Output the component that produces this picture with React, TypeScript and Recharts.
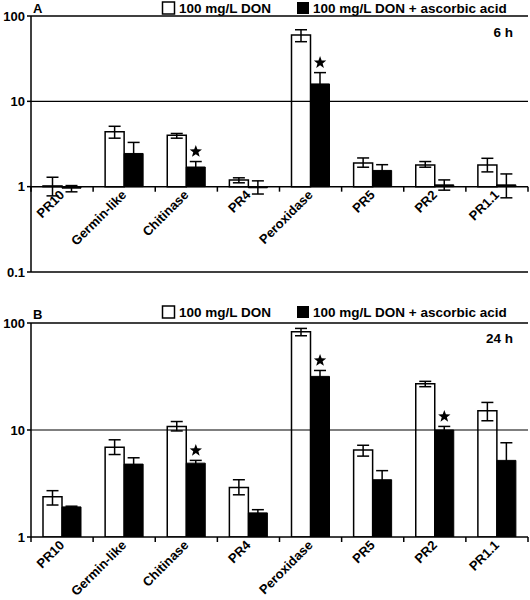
import React from "react";
import { BarChart, Bar, XAxis, YAxis, ErrorBar, ReferenceLine, ReferenceDot } from "recharts";

const categories = ["PR10", "Germin-like", "Chitinase", "PR4", "Peroxidase", "PR5", "PR2", "PR1.1"];

// 6 h
const don6 = [1.02, 4.4, 4.0, 1.2, 60, 1.9, 1.8, 1.8];
const don6Low = [0.78, 3.7, 3.7, 1.11, 50, 1.69, 1.69, 1.49];
const don6High = [1.29, 5.1, 4.2, 1.27, 69, 2.17, 1.97, 2.15];
const asc6 = [0.96, 2.45, 1.7, 0.97, 16, 1.55, 1.05, 1.05];
const asc6Low = [0.87, 1.8, 1.5, 0.82, 12, 1.35, 0.91, 0.74];
const asc6High = [1.03, 3.3, 1.97, 1.17, 21.7, 1.81, 1.2, 1.41];
const star6 = [false, false, true, false, true, false, false, false];

// 24 h
const don24 = [2.38, 6.9, 10.8, 2.9, 83, 6.5, 27, 15.1];
const don24Low = [1.99, 5.9, 9.8, 2.48, 76, 5.7, 25.4, 12.2];
const don24High = [2.71, 8.1, 12, 3.43, 89, 7.2, 28.5, 18.1];
const asc24 = [1.91, 4.8, 4.9, 1.68, 31.7, 3.43, 10.0, 5.2];
const asc24Low = [1.87, 4.2, 4.6, 1.58, 28, 2.9, 9.3, 3.5];
const asc24High = [1.94, 5.5, 5.2, 1.8, 36, 4.17, 10.8, 7.6];
const star24 = [false, false, true, false, true, false, true, false];

const ticks6 = [0.1, 1, 10, 100];
const ticks24 = [1, 10, 100];

const legendLabels = ["100 mg/L DON", "100 mg/L DON + ascorbic acid"];

const FONT = '"Liberation Sans", Arial, Helvetica, sans-serif';
const W = 530;
const H = 300;
const Y_AXIS_W = 31;
const RIGHT = 2;
const BAR = 19;

function buildRows(don: number[], donLo: number[], donHi: number[], asc: number[], ascLo: number[], ascHi: number[]) {
  return categories.map((name, i) => ({
    name,
    don: [1, don[i]],
    asc: [1, asc[i]],
    donErr: [don[i] - donLo[i], donHi[i] - don[i]],
    ascErr: [asc[i] - ascLo[i], ascHi[i] - asc[i]],
  }));
}

function Star({ cx, cy }: { cx: number; cy: number }) {
  const pts: string[] = [];
  for (let k = 0; k < 10; k++) {
    const r = k % 2 === 0 ? 6.5 : 2.7;
    const a = -Math.PI / 2 + (k * Math.PI) / 5;
    pts.push(`${cx + r * Math.cos(a)},${cy + r * Math.sin(a)}`);
  }
  return <polygon points={pts.join(" ")} fill="#000" />;
}

// category labels sit on the value-1 line, slanted, with ticks between categories
const makeTick = (axisY: number, band: number) => (props: any) => {
  const { payload, index } = props;
  const x = Number(props.x);
  const tx = x + 3;
  const ty = axisY + 9;
  return (
    <g>
      <line x1={x - band / 2} x2={x - band / 2} y1={axisY} y2={axisY + 5} stroke="#000" strokeWidth={1.5} />
      {index === categories.length - 1 && (
        <line x1={x + band / 2} x2={x + band / 2} y1={axisY} y2={axisY + 5} stroke="#000" strokeWidth={1.5} />
      )}
      <text
        x={tx}
        y={ty}
        transform={`rotate(-45 ${tx} ${ty})`}
        textAnchor="end"
        fontFamily={FONT}
        fontSize={13}
        fontWeight="bold"
        fill="#000"
      >
        {payload.value}
      </text>
    </g>
  );
};

interface PanelProps {
  rows: ReturnType<typeof buildRows>;
  ticks: number[];
  stars: boolean[];
  starY: number[];
  letter: string;
  time: string;
  marginTop: number;
  xAxisH: number;
  legendY: number;
  letterY: number;
  timeY: number;
}

function Panel({ rows, ticks, stars, starY, letter, time, marginTop, xAxisH, legendY, letterY, timeY }: PanelProps) {
  const domain = [ticks[0], ticks[ticks.length - 1]];
  const plotH = H - marginTop - xAxisH;
  const band = (W - Y_AXIS_W - RIGHT) / categories.length;
  const axisY =
    marginTop + (plotH * Math.log10(domain[1])) / (Math.log10(domain[1]) - Math.log10(domain[0]));

  return (
    <div style={{ position: "relative", width: W, height: H }}>
      <BarChart
        width={W}
        height={H}
        data={rows}
        margin={{ top: marginTop, right: RIGHT, bottom: 0, left: 0 }}
        barSize={BAR}
        barGap={0}
      >
        <XAxis
          dataKey="name"
          interval={0}
          height={xAxisH}
          tickLine={false}
          axisLine={{ stroke: "#000", strokeWidth: 1.5 }}
          tick={makeTick(axisY, band)}
        />
        <YAxis
          yAxisId="l"
          type="number"
          scale="log"
          domain={domain}
          ticks={ticks}
          allowDataOverflow
          width={Y_AXIS_W}
          tickSize={4}
          tickMargin={2}
          tickFormatter={(v: number) => String(v)}
          tick={{ fill: "#000", fontSize: 13, fontWeight: "bold", fontFamily: FONT }}
          tickLine={{ stroke: "#000", strokeWidth: 1.5 }}
          axisLine={{ stroke: "#000", strokeWidth: 1.5 }}
        />
        <YAxis
          yAxisId="r"
          orientation="right"
          type="number"
          scale="log"
          domain={domain}
          allowDataOverflow
          width={0}
          tick={false}
          tickLine={false}
          axisLine={{ stroke: "#000", strokeWidth: 1.5 }}
        />
        <ReferenceLine yAxisId="l" y={domain[1]} stroke="#000" strokeWidth={1.5} />
        <ReferenceLine yAxisId="l" y={10} stroke="#000" strokeWidth={1.2} />
        {domain[0] < 1 && <ReferenceLine yAxisId="l" y={1} stroke="#000" strokeWidth={1.5} />}
        <Bar yAxisId="l" dataKey="don" fill="#fff" stroke="#000" strokeWidth={1.5} isAnimationActive={false}>
          <ErrorBar dataKey="donErr" direction="y" width={6} stroke="#000" strokeWidth={1.5} />
        </Bar>
        <Bar yAxisId="l" dataKey="asc" fill="#000" stroke="#000" strokeWidth={1} isAnimationActive={false}>
          <ErrorBar dataKey="ascErr" direction="y" width={6} stroke="#000" strokeWidth={1.5} />
        </Bar>
        {categories.map((c, i) =>
          stars[i] ? (
            <ReferenceDot
              key={c}
              yAxisId="l"
              x={c}
              y={starY[i]}
              ifOverflow="visible"
              shape={(p: any) => <Star cx={p.cx + BAR / 2} cy={p.cy - 10} />}
            />
          ) : null
        )}
      </BarChart>
      <svg width={W} height={H} style={{ position: "absolute", left: 0, top: 0, pointerEvents: "none" }}>
        <g fontFamily={FONT} fontWeight="bold" fill="#000">
          <text x={33} y={letterY} fontSize={13}>
            {letter}
          </text>
          <rect x={162.5} y={legendY - 11} width={12} height={12} fill="#fff" stroke="#000" strokeWidth={1.5} />
          <text x={179} y={legendY} fontSize={13.5}>
            {legendLabels[0]}
          </text>
          <rect x={297} y={legendY - 11} width={12} height={12} fill="#000" />
          <text x={313} y={legendY} fontSize={13.5}>
            {legendLabels[1]}
          </text>
          <text x={513} y={timeY} fontSize={13.5} textAnchor="end">
            {time}
          </text>
        </g>
      </svg>
    </div>
  );
}

export default function App() {
  const rows6 = buildRows(don6, don6Low, don6High, asc6, asc6Low, asc6High);
  const rows24 = buildRows(don24, don24Low, don24High, asc24, asc24Low, asc24High);
  return (
    <div style={{ position: "absolute", left: 0, top: 0, width: W, height: 600, background: "#fff" }}>
      <Panel
        rows={rows6}
        ticks={ticks6}
        stars={star6}
        starY={asc6High}
        letter="A"
        time="6 h"
        marginTop={16}
        xAxisH={28}
        legendY={13}
        letterY={13}
        timeY={37}
      />
      <Panel
        rows={rows24}
        ticks={ticks24}
        stars={star24}
        starY={asc24High}
        letter="B"
        time="24 h"
        marginTop={23}
        xAxisH={63}
        legendY={17}
        letterY={19}
        timeY={43}
      />
    </div>
  );
}
